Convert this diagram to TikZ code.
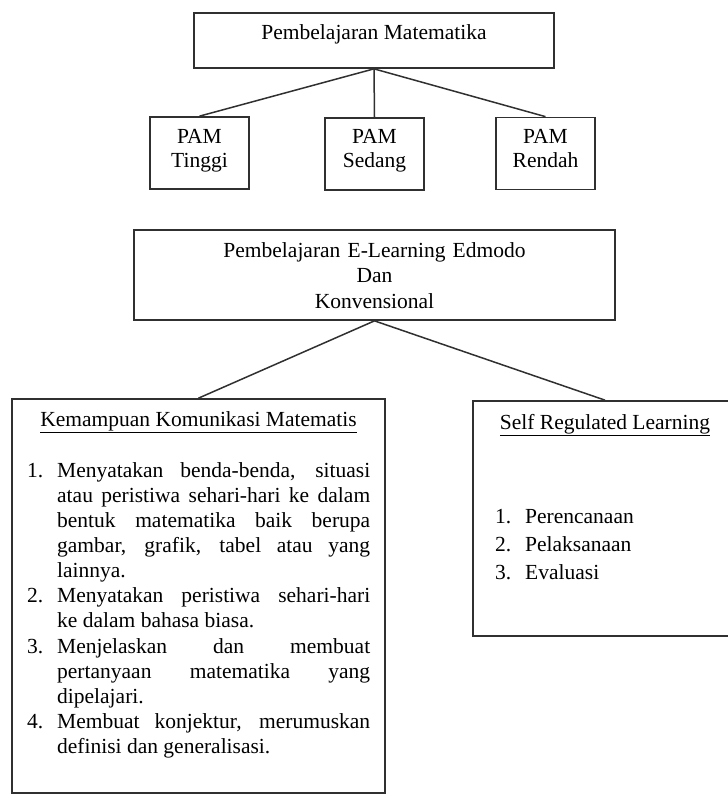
\documentclass[tikz,border=0pt]{standalone}
\usepackage{fontspec}
\setmainfont{Liberation Serif}
\usetikzlibrary{positioning}
\definecolor{Ink}{HTML}{303030}
\newcommand{\bodysize}{\fontsize{21.5}{25.1}\selectfont}
\newcommand{\numitem}[2]{\hangindent=30pt\hangafter=1\noindent\makebox[30pt][l]{#1}#2\par}

\begin{document}
\begin{tikzpicture}[x=1pt,y=-1pt,
  every node/.style={font=\bodysize,inner sep=0pt},
  box/.style={draw=Ink,line width=1.7pt},
  pambox/.style={box,minimum width=99pt,minimum height=72pt},
  txt/.style={anchor=base,align=center},
  pamtxt/.style={txt,text width=99pt,font=\fontsize{21.5}{23.6}\selectfont},
  link/.style={line width=1.5pt,Ink}
]
  \useasboundingbox (0,0) rectangle (728,798);
  \node[box,minimum width=360pt,minimum height=55pt] (pm) at (374,40.5) {};
  \node[txt] (pmtxt) at (374,39.5) {Pembelajaran Matematika};
  \node[pambox] (tinggi) at (199.5,153) {};
  \node[pambox] (sedang) at (374.5,154) {};
  \node[pambox] (rendah) at (545.5,153.5) {};
  \node[pamtxt] (tinggitxt) at (199.5,143.5) {PAM\\Tinggi};
  \node[pamtxt] (sedangtxt) at (374.5,143.5) {PAM\\Sedang};
  \node[pamtxt] (rendahtxt) at (545.5,143.5) {PAM\\Rendah};
  \draw[link] (pm.south)--(tinggi.north);
  \draw[link] (pm.south)--(sedang.north);
  \draw[link] (pm.south)--(rendah.north);

  \node[box,minimum width=481pt,minimum height=90pt] (el) at (374.5,275) {};
  \node[txt,text width=470pt,font=\fontsize{21.5}{25.5}\selectfont] (eltxt) at (374.5,257) {Pembelajaran E-Learning Edmodo\\Dan\\Konvensional};

  \node[box,minimum width=373pt,minimum height=394pt] (kk) at (198.5,596) {};
  \node[box,minimum width=264pt,minimum height=235pt] (srl) at (605,518.5) {};
  \draw[link] (el.south)--(kk.north);
  \draw[link] (el.south)--(srl.north);

  \node[txt] (kktitle) at (198.5,426) {\underline{Kemampuan Komunikasi Matematis}};
  \node[anchor=base west,text width=343pt,align=justify] (kklist) at (27,477.3) {%
    \hyphenpenalty=10000\exhyphenpenalty=10000\tolerance=10000
    \numitem{1.}{Menyatakan benda-benda, situasi\linebreak atau peristiwa sehari-hari ke dalam\linebreak bentuk matematika baik berupa\linebreak gambar, grafik, tabel atau yang\linebreak lainnya.}
    \numitem{2.}{Menyatakan peristiwa sehari-hari\linebreak ke dalam bahasa biasa.}
    \numitem{3.}{Menjelaskan dan membuat\linebreak pertanyaan matematika yang\linebreak dipelajari.}
    \numitem{4.}{Membuat konjektur, merumuskan\linebreak definisi dan generalisasi.}};

  \node[txt] (srltitle) at (605,429) {\underline{Self Regulated Learning}};
  \node[anchor=base west,text width=210pt,align=left,font=\fontsize{21.5}{28.3}\selectfont] (srllist) at (495,523.3) {%
    \makebox[30pt][l]{1.}Perencanaan\\
    \makebox[30pt][l]{2.}Pelaksanaan\\
    \makebox[30pt][l]{3.}Evaluasi};
\end{tikzpicture}
\end{document}
